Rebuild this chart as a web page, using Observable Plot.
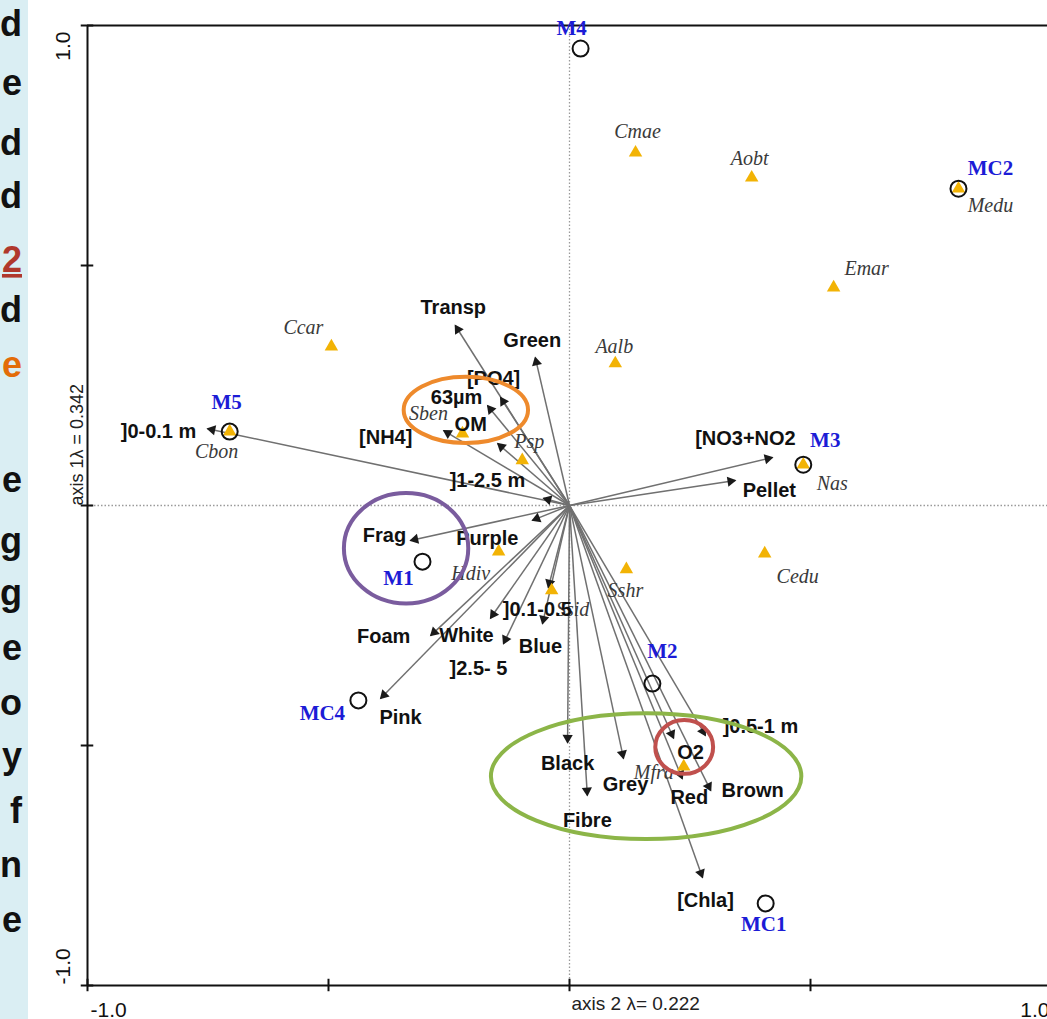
<!DOCTYPE html>
<html><head><meta charset="utf-8">
<script src="https://cdn.jsdelivr.net/npm/d3@7"></script>
<script src="https://cdn.jsdelivr.net/npm/@observablehq/plot@0.6"></script>
<style>
html,body{margin:0;padding:0;background:#fff;overflow:hidden}
#chart{position:relative;width:1047px;height:1019px}
</style></head>
<body><div id="chart"></div>
<script>
// ---------- DATA ----------
// Sites (blue labels, open circles): axis 2 (x), axis 1 (y)
const siteNames = ["M4", "MC2", "M5", "M3", "M1", "M2", "MC4", "MC1"];
const siteX = [0.023, 0.807, -0.705, 0.485, -0.305, 0.172, -0.438, 0.407];
const siteY = [0.952, 0.660, 0.154, 0.085, -0.117, -0.371, -0.406, -0.829];

// Species (yellow triangles, italic labels)
const speciesNames = ["Cmae", "Aobt", "Medu", "Emar", "Ccar", "Aalb", "Cbon", "Sben", "Psp", "Hdiv", "Ssid", "Sshr", "Nas", "Cedu", "Mfra"];
const speciesX = [0.137, 0.378, 0.807, 0.548, -0.494, 0.095, -0.705, -0.222, -0.098, -0.147, -0.037, 0.118, 0.485, 0.405, 0.237];
const speciesY = [0.735, 0.683, 0.660, 0.454, 0.331, 0.296, 0.154, 0.150, 0.094, -0.096, -0.177, -0.133, 0.085, -0.100, -0.544];

// Environmental / descriptor vectors (arrow tips)
const varNames = ["Transp", "Green", "[PO4]", "63µm", "[NH4]", "OM", "]1-2.5 m", "]0-0.1 m", "Frag", "Purple",
  "Foam", "Pink", "White", "]2.5- 5", "Blue", "]0.1-0.5", "Black", "Fibre", "Grey", "O2",
  "]0.5-1 m", "Red", "Brown", "[Chla]", "[NO3+NO2", "Pellet"];
const varX = [-0.237, -0.071, -0.143, -0.170, -0.261, -0.149, -0.054, -0.751, -0.330, -0.077,
  -0.288, -0.392, -0.164, -0.137, -0.056, -0.044, -0.004, 0.037, 0.112, 0.216,
  0.282, 0.234, 0.293, 0.276, 0.421, 0.344];
const varY = [0.375, 0.308, 0.225, 0.208, 0.156, 0.129, 0.015, 0.160, -0.073, -0.031,
  -0.271, -0.402, -0.235, -0.288, -0.246, -0.171, -0.494, -0.604, -0.527, -0.485,
  -0.479, -0.569, -0.594, -0.775, 0.100, 0.052];

// Highlight ellipses (centre and radii in axis units)
const ellipseNames = ["orange", "purple", "green", "red"];
const ellipseCx = [-0.214, -0.338, 0.160, 0.239];
const ellipseCy = [0.198, -0.090, -0.565, -0.504];
const ellipseRx = [0.129, 0.129, 0.322, 0.060];
const ellipseRy = [0.069, 0.115, 0.131, 0.056];

// Axis ticks and labels
const xTicks = [-1, -0.5, 0, 0.5, 1];
const yTicks = [-1, -0.5, 0, 0.5, 1];
const xTitle = "axis 2 λ= 0.222";
const yTitle = "axis 1λ = 0.342";

// Cut-off slide text at the left edge
const stripLetters = ["d", "e", "d", "d", "2", "d", "e", "e", "g", "g", "e", "o", "y", "f", "n", "e"];

// ---------- LAYOUT (label offsets in px, styles) ----------
const siteLabelOff = [[-9, -20], [32, -20], [-3, -29], [22, -24], [-24, 17], [10, -32], [-36, 13], [-2, 21]];
const speciesLabelOff = [[2, -21], [-2, -19], [32, 17], [33, -19], [-28, -19], [-1, -17], [-13, 20], [-34, -20], [7, -19],
  [-28, 22], [21, 19], [-1, 21], [29, 19], [33, 23], [-30, 6]];
const varLabelOff = [[-2, -18], [-3, -17], [-7, -19], [-31, -8], [-58, 7], [-27, -19], [-56, -18], [-49, 3], [-26, -5], [-45, 18],
  [-47, 1], [20, 19], [-24, 17], [-25, 25], [-2, 23], [-11, 22], [0, 21], [0, 25], [2, 26], [17, 14],
  [55, -9], [7, 19], [42, 0], [3, 23], [-27, -19], [34, 10]];
const ellipseColors = ["#ee8a2c", "#7a5c9e", "#8cb548", "#c0504d"];
const stripBaselines = [36, 95, 155, 208, 272, 322, 377, 492, 553, 605, 660, 715, 768, 823, 877, 932];
const stripColors = stripLetters.map((l, i) => i === 4 ? "#b0382c" : i === 6 ? "#e36c09" : "#111");

// ---------- BUILD ----------
const sites = siteNames.map((name, i) => ({name, x: siteX[i], y: siteY[i], off: siteLabelOff[i]}));
const species = speciesNames.map((name, i) => ({name, x: speciesX[i], y: speciesY[i], off: speciesLabelOff[i]}));
const vars = varNames.map((name, i) => ({name, x: varX[i], y: varY[i], off: varLabelOff[i]}));
const heads = vars.map(d => {
  const L = Math.hypot(d.x, d.y), back = 0.010;
  return {x: d.x - d.x / L * back, y: d.y - d.y / L * back, rot: Math.atan2(d.x, d.y) * 180 / Math.PI};
});

const sans = "'Liberation Sans', Arial, Helvetica, sans-serif";
const serif = "'Liberation Serif', 'Times New Roman', Times, serif";
const t = 0.013;

function labelMarks(rows, opts) {
  return rows.map(d => Plot.text([d], {x: "x", y: "y", text: "name", dx: d.off[0], dy: d.off[1], ...opts}));
}

const plot = Plot.plot({
  width: 1047, height: 1019,
  marginLeft: 87, marginRight: 0, marginTop: 25, marginBottom: 34,
  x: {domain: [-1, 0.9917], axis: null},
  y: {domain: [-1, 1], axis: null},
  style: {background: "white", overflow: "hidden"},
  marks: [
    // dotted centre axes
    Plot.ruleX([0], {stroke: "#9a9a9a", strokeDasharray: "1.5,2", strokeWidth: 1.3}),
    Plot.ruleY([0], {stroke: "#9a9a9a", strokeDasharray: "1.5,2", strokeWidth: 1.3}),
    // frame
    Plot.ruleX([-1], {stroke: "#111", strokeWidth: 2}),
    Plot.ruleY([1], {stroke: "#111", strokeWidth: 2}),
    Plot.ruleY([-1], {stroke: "#111", strokeWidth: 2}),
    // ticks
    Plot.ruleX(xTicks, {x: d => d, y1: () => -1 - t, y2: () => -1 + t, stroke: "#111", strokeWidth: 2}),
    Plot.ruleY(yTicks, {y: d => d, x1: () => -1 - t, x2: () => -1 + t, stroke: "#111", strokeWidth: 2}),
    // tick labels
    Plot.text([xTicks[0]], {x: d => d, y: () => -1, text: d => d.toFixed(1), dx: 3, dy: 25, textAnchor: "start", fontSize: 21, fontFamily: sans, fill: "#111"}),
    Plot.text([xTicks[4]], {x: d => d, y: () => -1, text: d => d.toFixed(1), dx: -2, dy: 25, textAnchor: "end", fontSize: 21, fontFamily: sans, fill: "#111"}),
    Plot.text([yTicks[4]], {x: () => -1, y: d => d, text: d => d.toFixed(1), dx: -24, dy: 6, rotate: -90, textAnchor: "end", fontSize: 21, fontFamily: sans, fill: "#111"}),
    Plot.text([yTicks[0]], {x: () => -1, y: d => d, text: d => d.toFixed(1), dx: -24, dy: -1, rotate: -90, textAnchor: "start", fontSize: 21, fontFamily: sans, fill: "#111"}),
    // axis titles
    Plot.text([xTitle], {x: () => 0, y: () => -1, text: d => d, dx: 2, dy: 18, textAnchor: "start", fontSize: 19, fontFamily: sans, fill: "#222"}),
    Plot.text([yTitle], {x: () => -1, y: () => 0, text: d => d, dx: -10, dy: 0, rotate: -90, textAnchor: "start", fontSize: 18, fontFamily: sans, fill: "#222"}),
    // vectors
    Plot.link(vars, {x1: () => 0, y1: () => 0, x2: "x", y2: "y", stroke: "#707070", strokeWidth: 1.5}),
    Plot.dot(heads, {x: "x", y: "y", rotate: "rot", symbol: "triangle", r: 3.8, fill: "#1a1a1a", stroke: "none"}),
    // species
    Plot.dot(species, {x: "x", y: "y", symbol: "triangle", r: 5, fill: "#f2b305", stroke: "none"}),
    // sites
    Plot.dot(sites, {x: "x", y: "y", r: 8, fill: "none", stroke: "#111", strokeWidth: 2}),
    // labels
    ...labelMarks(species, {fontFamily: serif, fontStyle: "italic", fontSize: 20, fill: "#3a3a3a"}),
    ...labelMarks(vars, {fontFamily: sans, fontWeight: "bold", fontSize: 20, fill: "#111"}),
    ...labelMarks(sites, {fontFamily: serif, fontWeight: "bold", fontSize: 21, fill: "#1c1cd6"})
  ]
});

// highlight ellipses and cut-off slide strip, positioned via the plot's scales
const sx = plot.scale("x"), sy = plot.scale("y");
const svg = d3.select(plot);
ellipseNames.forEach((n, i) => {
  const cx = sx.apply(ellipseCx[i]), cy = sy.apply(ellipseCy[i]);
  const rx = Math.abs(sx.apply(ellipseCx[i] + ellipseRx[i]) - cx);
  const ry = Math.abs(sy.apply(ellipseCy[i] + ellipseRy[i]) - cy);
  svg.append("ellipse").attr("cx", cx).attr("cy", cy).attr("rx", rx).attr("ry", ry)
    .attr("fill", "none").attr("stroke", ellipseColors[i]).attr("stroke-width", 4);
});
const strip = svg.append("g");
strip.append("rect").attr("x", 0).attr("y", 0).attr("width", 28).attr("height", 1019).attr("fill", "#daeef3");
stripLetters.forEach((l, i) => {
  const tx = strip.append("text").attr("x", 22).attr("y", stripBaselines[i]).attr("text-anchor", "end")
    .attr("font-family", sans).attr("font-weight", "bold").attr("font-size", 36).attr("fill", stripColors[i]).text(l);
  if (i === 4) tx.attr("text-decoration", "underline");
});

document.getElementById("chart").appendChild(plot);
</script>
</body></html>
